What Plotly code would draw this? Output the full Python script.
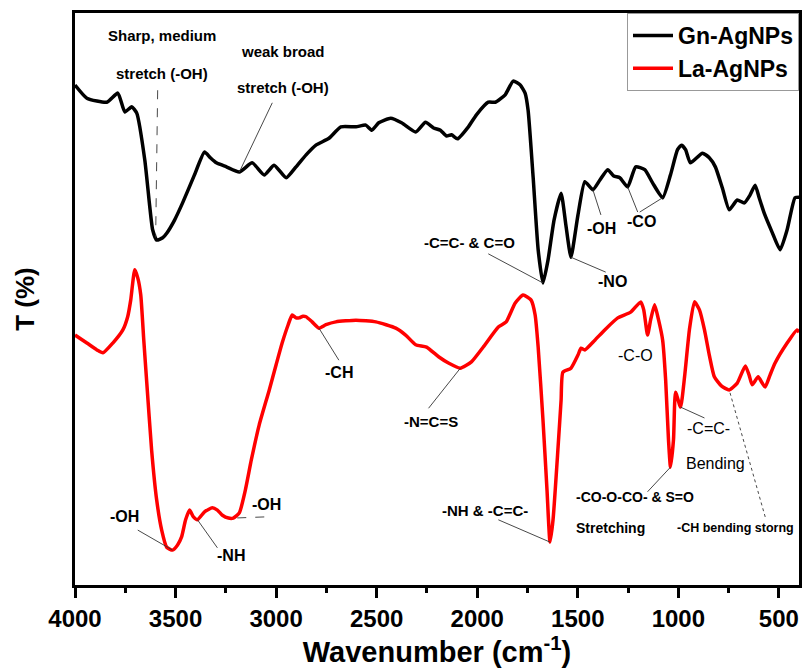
import numpy as np
import plotly.graph_objects as go

# ---------------- data ----------------
gn_wn = [4000, 3941, 3842, 3787, 3752, 3718, 3693, 3653, 3629, 3614, 3594, 3564, 3544, 3505,
         3465, 3406, 3356, 3327, 3297, 3247, 3183, 3119, 3059, 3010, 2950, 2901, 2851, 2802,
         2737, 2678, 2603, 2554, 2524, 2490, 2430, 2376, 2306, 2257, 2217, 2183, 2153, 2128,
         2098, 2044, 2004, 1945, 1910, 1861, 1821, 1786, 1762, 1747, 1722, 1697, 1673, 1648,
         1618, 1583, 1559, 1534, 1499, 1465, 1425, 1390, 1351, 1321, 1291, 1252, 1212, 1167,
         1128, 1078, 1039, 1004, 984, 964, 940, 880, 846, 816, 781, 747, 707, 672, 643, 618,
         598, 573, 534, 494, 459, 420, 400]
gn_t = [87.4, 85.1, 84.4, 86.0, 82.7, 83.6, 82.5, 74.3, 66.4, 62.1, 60.3, 60.7, 61.5, 63.8,
        66.8, 71.7, 75.7, 74.7, 73.8, 73.1, 72.2, 73.8, 71.7, 73.4, 71.2, 73.1, 75.2, 76.9,
        78.1, 80.1, 80.1, 80.4, 79.5, 80.8, 81.6, 80.8, 79.2, 80.9, 79.9, 79.5, 78.5, 78.7,
        78.0, 80.1, 82.2, 84.4, 84.4, 85.7, 88.1, 87.4, 86.0, 83.0, 71.3, 58.6, 52.8, 56.8,
        63.8, 68.5, 62.9, 57.3, 64.7, 70.5, 69.1, 70.8, 72.6, 71.5, 71.2, 69.6, 73.1, 72.6,
        70.3, 67.7, 71.7, 76.1, 76.9, 76.1, 73.8, 75.5, 74.7, 73.1, 69.4, 65.6, 67.3, 66.8,
        68.2, 69.9, 67.7, 65.0, 61.7, 58.6, 62.1, 67.7, 67.8]

la_wn = [4000, 3941, 3891, 3861, 3812, 3762, 3738, 3723, 3703, 3688, 3673, 3658, 3643, 3619,
         3594, 3569, 3544, 3515, 3490, 3470, 3450, 3430, 3411, 3391, 3356, 3317, 3292, 3267,
         3237, 3213, 3183, 3153, 3123, 3084, 3034, 3000, 2970, 2940, 2920, 2901, 2886, 2866,
         2851, 2821, 2787, 2752, 2703, 2603, 2504, 2405, 2356, 2306, 2252, 2192, 2143, 2084,
         2029, 1970, 1895, 1856, 1811, 1772, 1732, 1712, 1697, 1673, 1653, 1638, 1623, 1598,
         1583, 1574, 1534, 1499, 1484, 1465, 1415, 1366, 1301, 1237, 1187, 1172, 1153, 1138,
         1118, 1098, 1078, 1063, 1049, 1039, 1024, 1014, 989, 969, 945, 920, 895, 870, 846,
         821, 786, 747, 707, 667, 648, 633, 603, 583, 568, 544, 519, 459, 410, 400]
la_t = [43.7, 42.3, 41.1, 40.6, 42.3, 44.6, 46.9, 49.8, 55.1, 53.7, 50.7, 42.8, 35.3, 23.6,
        14.9, 9.6, 6.6, 6.1, 7.0, 8.4, 11.4, 13.1, 11.9, 11.4, 12.8, 13.5, 13.1, 12.2,
        11.7, 11.7, 12.6, 16.6, 21.9, 28.0, 34.1, 38.5, 42.3, 45.5, 47.2, 46.7, 46.7, 47.0,
        46.9, 46.0, 44.9, 45.5, 46.0, 46.3, 46.0, 44.9, 43.7, 42.0, 41.6, 39.9, 38.8, 37.9,
        39.0, 41.6, 45.1, 46.0, 49.3, 50.7, 49.8, 47.2, 41.6, 28.8, 16.6, 7.5, 11.4, 24.1,
        32.3, 37.2, 37.9, 40.2, 41.4, 41.1, 42.8, 44.6, 46.7, 47.7, 49.5, 48.1, 43.7, 46.3,
        49.0, 46.3, 42.8, 35.8, 25.4, 20.6, 25.4, 33.7, 31.1, 36.4, 44.6, 49.5, 48.1, 44.6, 40.2,
        36.4, 34.8, 34.1, 35.3, 38.3, 36.7, 35.0, 36.4, 35.3, 34.6, 36.7, 38.8, 42.3, 44.6, 44.2]

x_ticks = [4000, 3500, 3000, 2500, 2000, 1500, 1000, 500]

# band labels: (text, wavenumber, T, bold, size)
labels = [
    ("Sharp, medium", 3569, 96.0, True, 15),
    ("stretch (-OH)", 3569, 89.5, True, 15),
    ("weak broad", 2965, 93.2, True, 15),
    ("stretch (-OH)", 2965, 86.9, True, 15),
    ("-C=C- &amp; C=O", 2039, 59.8, True, 15),
    ("-NO", 1326, 53.0, True, 16),
    ("-OH", 1380, 62.4, True, 16),
    ("-CO", 1182, 63.5, True, 16),
    ("-OH", 3752, 11.9, True, 16),
    ("-NH", 3222, 5.2, True, 16),
    ("-OH", 3049, 14.0, True, 16),
    ("-CH", 2688, 37.2, True, 16),
    ("-N=C=S", 2232, 28.5, True, 15),
    ("-NH &amp; -C=C-", 1960, 13.1, True, 15),
    ("-C-O", 1212, 40.2, False, 16),
    ("-CO-O-CO- &amp; S=O", 1217, 15.4, True, 14),
    ("Stretching", 1336, 10.0, True, 14),
    ("-C=C-", 850, 27.4, False, 16),
    ("Bending", 816, 21.2, False, 16),
    ("-CH bending storng", 717, 10.0, True, 12.5),
]

# leader lines: (series, band wavenumber on curve, tail wavenumber, tail T, dash)
leaders = [
    ("gn", 3599, 3589, 86.5, "dash"),
    ("gn", 3183, 3019, 84.3, "solid"),
    ("gn", 1673, 1945, 57.9, "solid"),
    ("gn", 1534, 1361, 54.7, "solid"),
    ("gn", 1425, 1385, 64.7, "solid"),
    ("gn", 1252, 1202, 65.2, "solid"),
    ("gn", 1078, 1192, 65.2, "solid"),
    ("la", 3515, 3688, 9.6, "solid"),
    ("la", 3391, 3292, 6.5, "solid"),
    ("la", 3213, 3059, 11.9, "dash"),
    ("la", 2787, 2688, 39.3, "solid"),
    ("la", 2084, 2242, 30.9, "solid"),
    ("la", 1638, 1895, 11.4, "solid"),
    ("la", 1039, 1153, 16.3, "solid"),
    ("la", 989, 870, 29.2, "solid"),
    ("la", 747, 568, 11.9, "dot"),
]

FONT = "Liberation Sans, Arial, sans-serif"

fig = go.Figure()
fig.add_trace(go.Scatter(x=gn_wn, y=gn_t, mode="lines", name="Gn-AgNPs",
                         line=dict(color="black", width=3.5, shape="spline", smoothing=0.5)))
fig.add_trace(go.Scatter(x=la_wn, y=la_t, mode="lines", name="La-AgNPs",
                         line=dict(color="#ff0000", width=3.5, shape="spline", smoothing=0.5)))

series = {"gn": (np.array(gn_wn[::-1]), np.array(gn_t[::-1])),
          "la": (np.array(la_wn[::-1]), np.array(la_t[::-1]))}

for s, band, tx, ty, dash in leaders:
    xs, ys = series[s]
    hy = float(np.interp(band, xs, ys))
    fig.add_shape(type="line", xref="x", yref="y", x0=tx, y0=ty, x1=band, y1=hy,
                  line=dict(color="#333333", width=0.9, dash=dash), layer="above")

for text, x, y, bold, size in labels:
    fig.add_annotation(x=x, y=y, xref="x", yref="y", text=text, showarrow=False,
                       font=dict(family=FONT, size=size, color="black",
                                 weight="bold" if bold else "normal"),
                       xanchor="center", yanchor="middle")

axis_common = dict(showgrid=False, zeroline=False, showline=True, linecolor="black",
                   linewidth=3, mirror=True)

fig.update_layout(
    width=806, height=669,
    margin=dict(l=75, r=4, t=13, b=84),
    paper_bgcolor="white", plot_bgcolor="white",
    font=dict(family=FONT, color="black"),
    xaxis=dict(range=[4000, 400], tickvals=x_ticks, ticks="outside", ticklen=10,
               tickwidth=3, tickcolor="black",
               tickfont=dict(family=FONT, size=24, weight="bold"),
               minor=dict(ticks="outside", ticklen=5, tickwidth=3, tickcolor="black",
                          dtick=250, tick0=0),
               title=dict(text="<b>Wavenumber (cm<sup>-1</sup>)</b>",
                          font=dict(family=FONT, size=29), standoff=0),
               **axis_common),
    yaxis=dict(range=[0, 100], showticklabels=False, ticks="",
               title=dict(text="<b>T (%)</b>", font=dict(family=FONT, size=26), standoff=30),
               **axis_common),
    legend=dict(x=1, y=1, xanchor="right", yanchor="top", bgcolor="white",
                bordercolor="#999999", borderwidth=1,
                font=dict(family=FONT, size=23, weight="bold"),
                tracegroupgap=0, itemwidth=40),
    showlegend=True,
)

fig.write_html("out.html")
